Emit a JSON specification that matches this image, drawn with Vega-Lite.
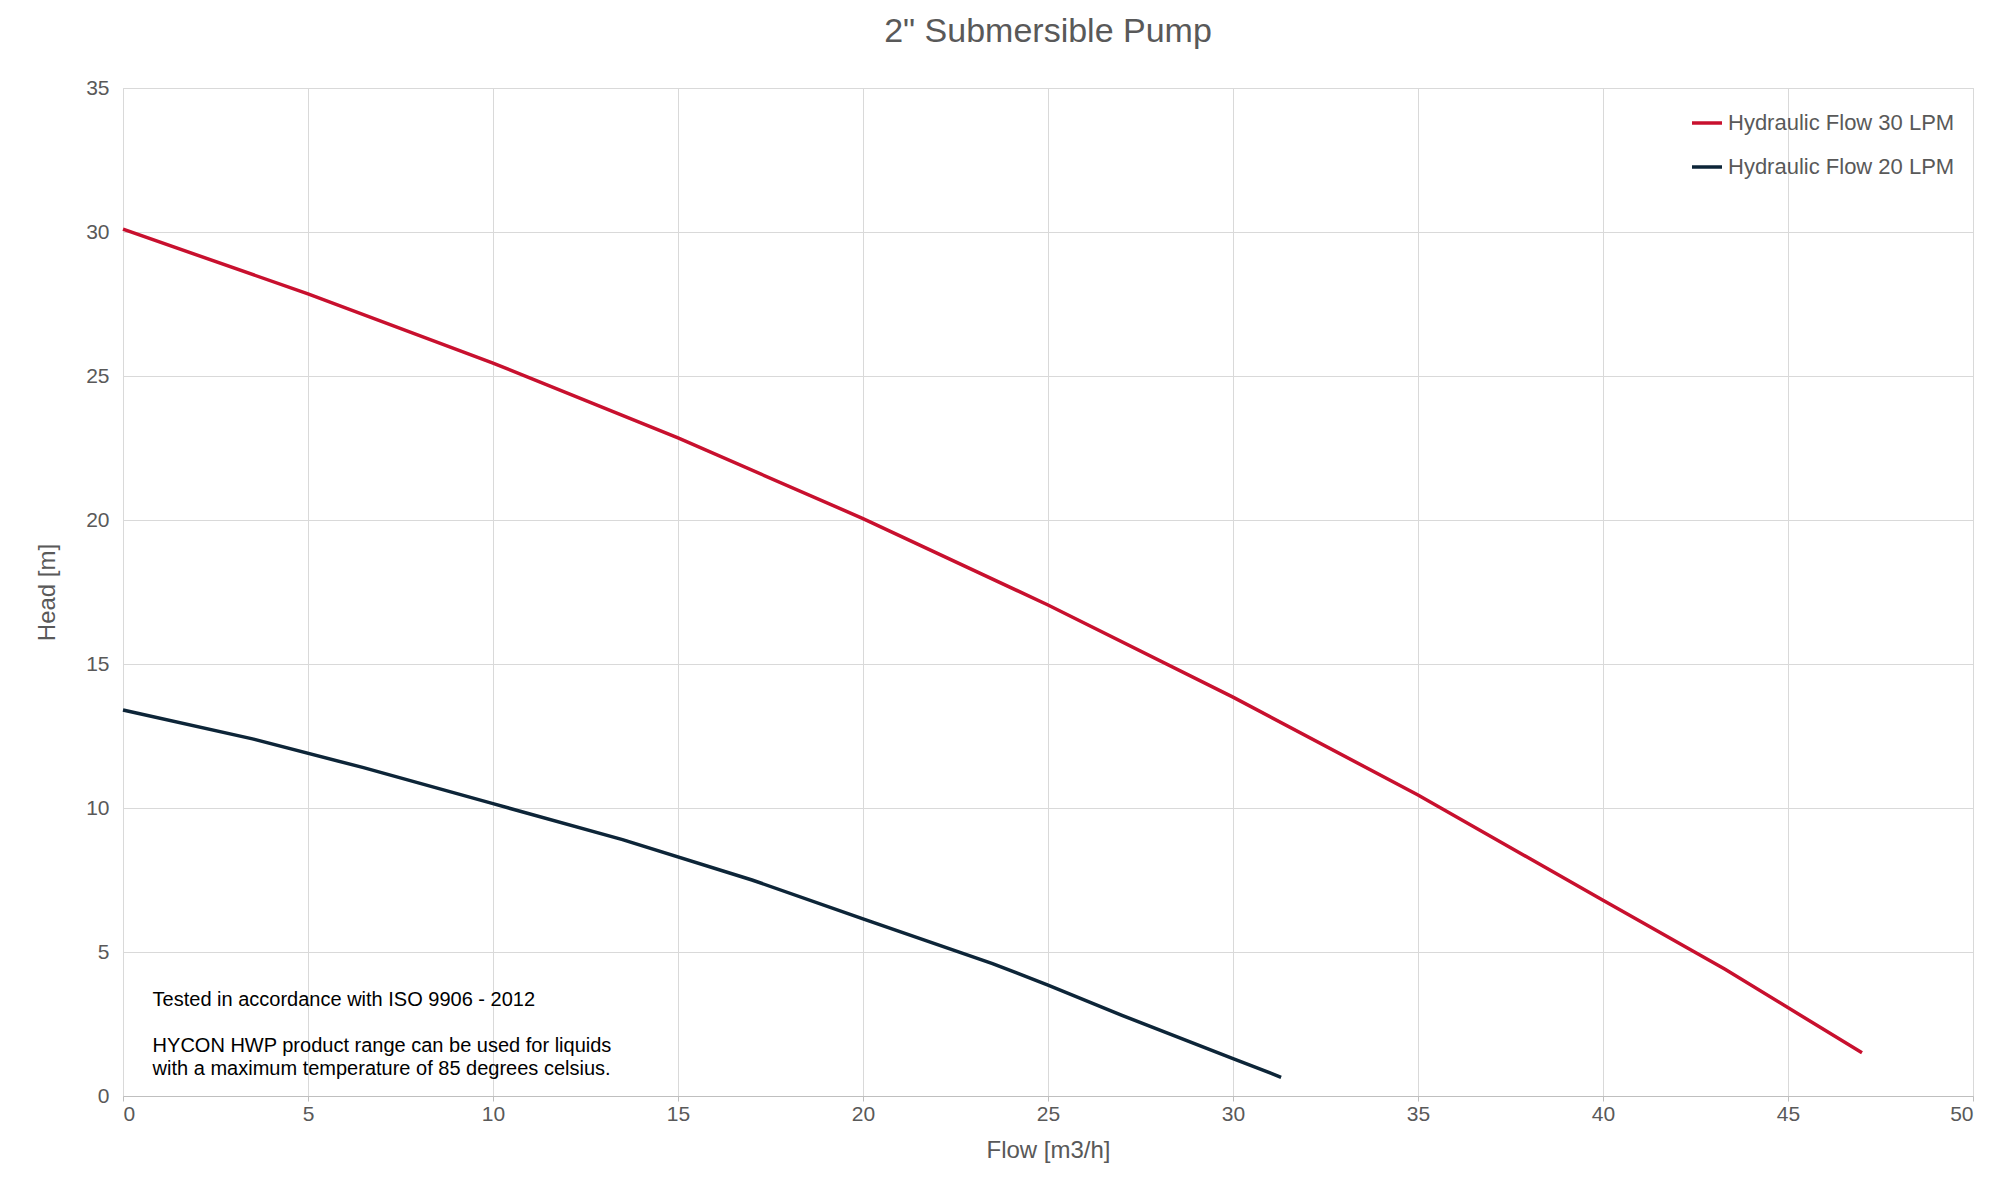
{
  "$schema": "https://vega.github.io/schema/vega-lite/v6.json",
  "width": 1850,
  "height": 1008,
  "padding": {"left": 35, "top": 15, "right": 15, "bottom": 5},
  "title": {"text": "2\" Submersible Pump", "fontSize": 34, "font": "Liberation Sans", "fontWeight": "normal", "color": "#595959", "offset": 28},
  "config": {
    "font": "Liberation Sans",
    "view": {"stroke": "#d9d9d9"},
    "axis": {"labelFontSize": 21, "titleFontSize": 24, "labelColor": "#595959", "titleColor": "#595959", "titleFontWeight": "normal", "gridColor": "#d9d9d9", "domainColor": "#bfbfbf", "tickColor": "#bfbfbf"}
  },
  "layer": [
    {
      "data": {"values": [
        {"series": "Hydraulic Flow 30 LPM", "flow": 0, "head": 30.1},
        {"series": "Hydraulic Flow 30 LPM", "flow": 5, "head": 27.85},
        {"series": "Hydraulic Flow 30 LPM", "flow": 10, "head": 25.45},
        {"series": "Hydraulic Flow 30 LPM", "flow": 15, "head": 22.85},
        {"series": "Hydraulic Flow 30 LPM", "flow": 20, "head": 20.05},
        {"series": "Hydraulic Flow 30 LPM", "flow": 25, "head": 17.05},
        {"series": "Hydraulic Flow 30 LPM", "flow": 30, "head": 13.85},
        {"series": "Hydraulic Flow 30 LPM", "flow": 35, "head": 10.45},
        {"series": "Hydraulic Flow 30 LPM", "flow": 40, "head": 6.8},
        {"series": "Hydraulic Flow 30 LPM", "flow": 43.3, "head": 4.4},
        {"series": "Hydraulic Flow 30 LPM", "flow": 47, "head": 1.5},
        {"series": "Hydraulic Flow 20 LPM", "flow": 0, "head": 13.4},
        {"series": "Hydraulic Flow 20 LPM", "flow": 3.5, "head": 12.4},
        {"series": "Hydraulic Flow 20 LPM", "flow": 6.5, "head": 11.4},
        {"series": "Hydraulic Flow 20 LPM", "flow": 10, "head": 10.15},
        {"series": "Hydraulic Flow 20 LPM", "flow": 13.5, "head": 8.9},
        {"series": "Hydraulic Flow 20 LPM", "flow": 17, "head": 7.5},
        {"series": "Hydraulic Flow 20 LPM", "flow": 20, "head": 6.15},
        {"series": "Hydraulic Flow 20 LPM", "flow": 23.5, "head": 4.6},
        {"series": "Hydraulic Flow 20 LPM", "flow": 25, "head": 3.85},
        {"series": "Hydraulic Flow 20 LPM", "flow": 27, "head": 2.8},
        {"series": "Hydraulic Flow 20 LPM", "flow": 30, "head": 1.3},
        {"series": "Hydraulic Flow 20 LPM", "flow": 31.3, "head": 0.65}
      ]},
      "mark": {"type": "line", "strokeWidth": 3.5},
      "encoding": {
        "x": {"field": "flow", "type": "quantitative", "title": "Flow [m3/h]", "scale": {"domain": [0, 50], "nice": false}, "axis": {"tickCount": 10, "titlePadding": 14}},
        "y": {"field": "head", "type": "quantitative", "title": "Head [m]", "scale": {"domain": [0, 35], "nice": false}, "axis": {"tickCount": 7, "titlePadding": 26, "ticks": false, "domain": false, "labelPadding": 14}},
        "color": {"field": "series", "type": "nominal", "sort": ["Hydraulic Flow 30 LPM", "Hydraulic Flow 20 LPM"],
          "scale": {"domain": ["Hydraulic Flow 30 LPM", "Hydraulic Flow 20 LPM"], "range": ["#c8102e", "#0d2538"]},
          "legend": {"title": null, "orient": "top-right", "symbolType": "stroke", "symbolStrokeWidth": 3.5, "symbolSize": 900, "labelFontSize": 22, "labelColor": "#595959", "rowPadding": 16, "offset": 18, "labelLimit": 400}}
      }
    },
    {
      "data": {"values": [
        {"flow": 0.8, "head": 3.35, "label": "Tested in accordance with ISO 9906 - 2012"},
        {"flow": 0.8, "head": 1.75, "label": "HYCON HWP product range can be used for liquids"},
        {"flow": 0.8, "head": 0.95, "label": "with a maximum temperature of 85 degrees celsius."}
      ]},
      "mark": {"type": "text", "align": "left", "baseline": "middle", "fontSize": 20, "color": "#000000"},
      "encoding": {
        "x": {"field": "flow", "type": "quantitative"},
        "y": {"field": "head", "type": "quantitative"},
        "text": {"field": "label"}
      }
    }
  ]
}
